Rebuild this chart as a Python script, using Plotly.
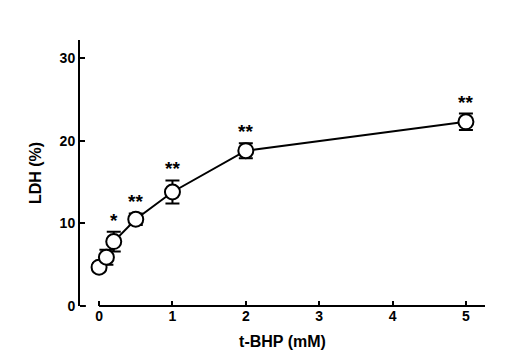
import plotly.graph_objects as go

conc = [0, 0.1, 0.2, 0.5, 1, 2, 5]
ldh = [4.7, 5.9, 7.8, 10.5, 13.8, 18.8, 22.3]
err = [0.5, 0.9, 1.2, 0.7, 1.4, 0.9, 1.0]
sig = ["", "", "*", "**", "**", "**", "**"]
xticks = [0, 1, 2, 3, 4, 5]
yticks = [0, 10, 20, 30]

FONT = "Liberation Sans, Arial, sans-serif"
XMIN, XMAX = -0.26, 5.26

fig = go.Figure()
fig.add_trace(go.Scatter(
    x=conc, y=ldh, mode="lines+markers",
    line=dict(color="black", width=2),
    marker=dict(symbol="circle", size=15, color="white",
                line=dict(color="black", width=2)),
    error_y=dict(type="data", array=err, visible=True,
                 color="black", thickness=2, width=7),
    showlegend=False,
))

for xv, yv, ev, s in zip(conc, ldh, err, sig):
    if s:
        fig.add_annotation(x=xv, y=yv + ev, text=s, showarrow=False,
                           yanchor="bottom", yshift=-1,
                           font=dict(family=FONT, size=19, color="black", weight="bold"))

# detached x-axis line starting at x=0, and short foot on the y-axis
fig.add_shape(type="line", xref="x", yref="paper", x0=xticks[0], x1=XMAX, y0=0, y1=0,
              line=dict(color="black", width=2), layer="above")
fig.add_shape(type="line", xref="x", yref="paper", x0=XMIN, x1=XMIN + 0.08, y0=0, y1=0,
              line=dict(color="black", width=2), layer="above")

fig.update_layout(
    width=500, height=355,
    margin=dict(l=72, r=23, t=32, b=57),
    paper_bgcolor="white", plot_bgcolor="white",
    font=dict(family=FONT, color="black"),
)
fig.update_xaxes(
    range=[XMIN, XMAX], tickvals=xticks, ticks="inside", ticklen=5,
    tickwidth=1.5, tickcolor="black",
    showline=False, showgrid=False, zeroline=False,
    tickfont=dict(family=FONT, size=14, weight="bold"),
    title=dict(text="t-BHP (mM)", standoff=12,
               font=dict(family=FONT, size=16, weight="bold")),
)
fig.update_yaxes(
    range=[0, 32.2], tickvals=yticks, ticks="inside", ticklen=5,
    tickwidth=1.5, tickcolor="black",
    showline=True, linecolor="black", linewidth=2, showgrid=False, zeroline=False,
    tickfont=dict(family=FONT, size=14, weight="bold"),
    title=dict(text="LDH (%)", standoff=14,
               font=dict(family=FONT, size=16, weight="bold")),
)

fig.write_html("out.html")
